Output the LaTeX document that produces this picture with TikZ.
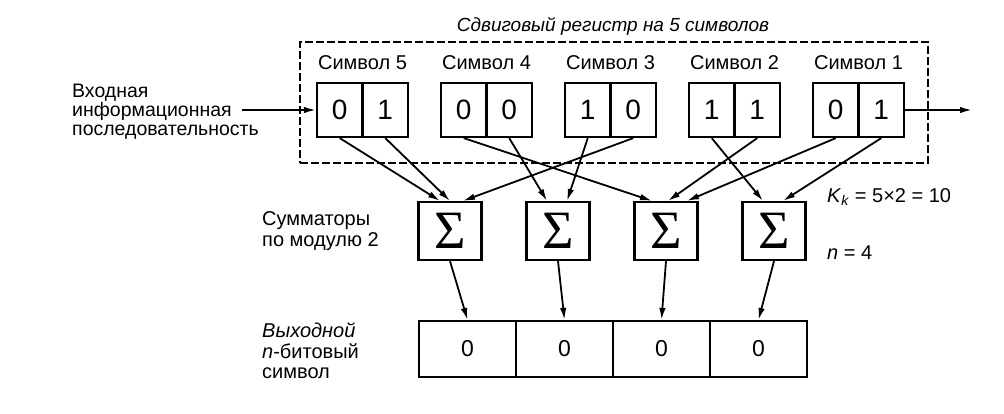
\documentclass[tikz,border=0pt]{standalone}
\usepackage{fontspec}
\setsansfont{Liberation Sans}
\newfontfamily\sigmafont{Liberation Serif}
\usetikzlibrary{arrows.meta,positioning}

\begin{document}
\begin{tikzpicture}[x=1pt,y=-1pt,font=\sffamily\fontsize{20}{20.5}\selectfont,
  bit/.style={draw,line width=2.2pt,minimum width=45.5pt,minimum height=54pt,inner sep=0pt,font=\sffamily\fontsize{28}{28}\selectfont},
  adder/.style={draw,line width=2.2pt,minimum width=63pt,minimum height=58pt,inner sep=0pt,font=\sigmafont\fontsize{54}{54}\selectfont},
  outbit/.style={draw,line width=2.2pt,minimum width=97pt,minimum height=56pt,inner sep=0pt,font=\sffamily\fontsize{23}{23}\selectfont},
  lbl/.style={align=left,anchor=west,inner sep=0pt},
  wire/.style={line width=1.8pt,-{Latex[length=12pt,width=6.5pt]}}]
  \useasboundingbox (0,0) rectangle (1004,413);
  \node[draw,line width=2pt,dash pattern=on 8pt off 3pt,minimum width=628pt,minimum height=121pt] (reg) at (614,102.5) {};
  \node[font=\sffamily\itshape\fontsize{19}{19}\selectfont] (title) at (613,26) {Сдвиговый регистр на 5 символов};
  \foreach \s/\a/\b [count=\k from 0] in {5/0/1,4/0/0,3/1/0,2/1/1,1/0/1}{
    \node[bit] (l\s) at ({339.75+124*\k},110) {\a};
    \node[bit] (r\s) at ({385.25+124*\k},110) {\b};
    \node (t\s) at ({362.5+124*\k},63) {Символ \s};
  }
  \foreach \k/\x in {1/450,2/558,3/666,4/774}{\node[adder] (sum\k) at (\x,231) {Σ};}
  \foreach \k in {1,...,4}{\node[outbit] (out\k) at ({370.5+97*\k},349) {0};}
  \foreach \src/\dst/\dx in {l5/1/-10,r5/1/0,r3/1/13,r4/2/-11,l3/2/9,l4/3/-14,r2/3/2,l1/3/21,l2/4/-11,r1/4/9}{
    \draw[wire] (\src.south) -- ([xshift=\dx pt]sum\dst.north);}
  \foreach \k in {1,...,4}{\draw[wire] (sum\k.south) -- (out\k.north);}
  \node[lbl,font=\sffamily\fontsize{19.5}{19}\selectfont] (inlbl) at (72,112) {Входная\\информационная\\последовательность};
  \coordinate (inp) at (242,110);
  \coordinate (outp) at (972,110);
  \draw[wire] (inp) -- (l5.west);
  \draw[wire] (r1.east) -- (outp);
  \node[lbl] (addlbl) at (262,231) {Сумматоры\\по модулю 2};
  \node[lbl] (outlbl) at (262,351) {\textit{Выходной}\\\textit{n}-битовый\\символ};
  \node[lbl] (kk) at (827,197) {\textit{K}\textsubscript{\textit{k}} = 5×2 = 10};
  \node[lbl] (nn) at (827,253) {\textit{n} = 4};
\end{tikzpicture}
\end{document}
